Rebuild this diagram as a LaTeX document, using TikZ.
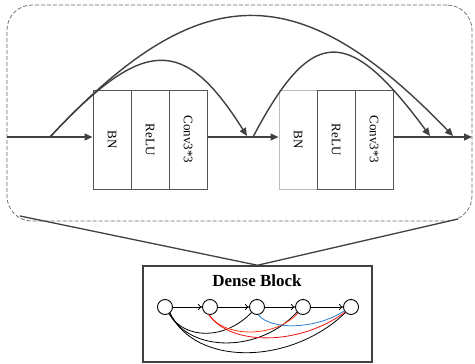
\documentclass[tikz,border=0pt]{standalone}
\usepackage{fontspec}
\setmainfont{Liberation Serif}
\usetikzlibrary{arrows.meta}
\definecolor{ln}{HTML}{404040}
\definecolor{colgray}{HTML}{555555}
\definecolor{lightcol}{HTML}{BBBBBB}
\definecolor{dashgray}{HTML}{666666}
\definecolor{redA}{HTML}{FF3A10}
\definecolor{redB}{HTML}{F01010}
\definecolor{blueA}{HTML}{2A80D0}
\begin{document}
\begin{tikzpicture}[x=1pt,y=-1pt,
  mainln/.style={draw=ln,line width=1.4pt},
  arr/.style={mainln,-{Triangle[length=8pt,width=7pt]}},
  col/.style={draw=colgray,line width=1pt,minimum width=38pt,minimum height=99pt,inner sep=0pt},
  lbl/.style={rotate=-90,font=\fontsize{13}{15}\selectfont,inner sep=0pt},
  circ/.style={circle,draw=black,line width=0.9pt,minimum size=15pt,inner sep=0pt},
  darr/.style={draw=black,line width=0.8pt,-{To[length=4pt,width=6pt]}},
  dcurve/.style={line width=0.8pt}
]
\useasboundingbox (0,0) rectangle (475,364);
% dashed container
\node[draw=dashgray,dashed,dash pattern=on 4pt off 2pt,line width=0.7pt,rounded corners=25pt,
  minimum width=465pt,minimum height=216pt,inner sep=0pt] (cont) at (239.5,113) {};
% block 1
\node[col] (b1a) at (112,139.5) {};
\node[col] (b1b) at (150,139.5) {};
\node[col] (b1c) at (188,139.5) {};
\node[lbl] at (b1a) {BN};
\node[lbl] at (b1b) {ReLU};
\node[lbl] at (b1c) {Conv3*3};
% block 2
\node[col,draw=lightcol] (b2a) at (298,139.5) {};
\node[col] (b2b) at (336,139.5) {};
\node[col] (b2c) at (374,139.5) {};
\node[lbl] at (b2a) {BN};
\node[lbl] at (b2b) {ReLU};
\node[lbl] at (b2c) {Conv3*3};
% main flow
\coordinate (in) at (7,137);
\coordinate (s1) at (50,137);
\coordinate (t1) at (247,136);
\coordinate (s2) at (253,137);
\coordinate (t2) at (430,136);
\coordinate (t3) at (453,136);
\coordinate (out) at (472,137);
\draw[arr] (in) -- (in -| b1a.west);
\draw[arr] (in -| b1c.east) -- (in -| b2a.west);
\draw[arr] (in -| b2c.east) -- (out);
\draw[arr] (s1) .. controls (144,36) and (184,36) .. (t1);
\draw[arr] (s1) .. controls (200,-24) and (299,-24) .. (t3);
\draw[arr] (s2) .. controls (312,25) and (348,25) .. (t2);
% dense block box
\node[draw=ln,line width=1.5pt,minimum width=229pt,minimum height=96pt,inner sep=0pt] (db) at (257.5,314) {};
\node[font=\bfseries\fontsize{17}{19}\selectfont] (dbt) at (257,281) {Dense Block};
\coordinate (cl) at (20,216);
\coordinate (cr) at (458,219);
\draw[mainln,line width=1.3pt] (cl) -- (db.north) -- (cr);
% dense block graph
\node[circ] (c1) at (165,307) {};
\node[circ] (c2) at (210,307) {};
\node[circ] (c3) at (257,307) {};
\node[circ] (c4) at (303,307) {};
\node[circ] (c5) at (351,307) {};
\draw[darr] (c1) -- (c2);
\draw[darr] (c2) -- (c3);
\draw[darr] (c3) -- (c4);
\draw[darr] (c4) -- (c5);
\draw[dcurve,black] (c1.-60) .. controls (185,340) and (225,340) .. (c3.-135);
\draw[dcurve,black] (c1.-55) .. controls (190,353) and (260,353) .. (c4.-140);
\draw[dcurve,black] (c1.-50) .. controls (195,366) and (290,366) .. (c5.-135);
\draw[dcurve,redA] (c2.-100) .. controls (225,338) and (275,338) .. (c4.-130);
\draw[dcurve,redB] (c2.-95) .. controls (230,346) and (300,346) .. (c5.-140);
\draw[dcurve,blueA] (c3.-80) .. controls (270,330) and (315,330) .. (c5.-150);
\end{tikzpicture}
\end{document}
